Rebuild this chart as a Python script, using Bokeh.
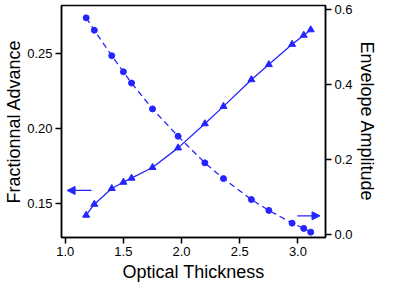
from bokeh.plotting import figure
from bokeh.models import Range1d, LinearAxis, FixedTicker, Arrow, NormalHead, Title
from bokeh.embed import file_html
from bokeh.resources import INLINE

# Data
thickness = [1.18, 1.25, 1.40, 1.50, 1.57, 1.75, 1.97, 2.20, 2.36, 2.60, 2.75, 2.95, 3.05, 3.11]
fractional_advance = [0.1421, 0.1494, 0.1599, 0.1641, 0.1668, 0.1739, 0.1870, 0.2031,
                      0.2147, 0.2325, 0.2426, 0.2561, 0.2622, 0.2658]
envelope_amplitude = [0.578, 0.545, 0.477, 0.434, 0.404, 0.335, 0.262, 0.191,
                      0.149, 0.093, 0.064, 0.030, 0.016, 0.006]

x_ticks = [1.0, 1.5, 2.0, 2.5, 3.0]
x_tick_labels = ["1.0", "1.5", "2.0", "2.5", "3.0"]
left_ticks = [0.15, 0.20, 0.25]
left_tick_labels = ["0.15", "0.20", "0.25"]
right_ticks = [0.0, 0.2, 0.4, 0.6]
right_tick_labels = ["0.0", "0.2", "0.4", "0.6"]

x_title = "Optical Thickness"
left_title = "Fractionnal Advance"
right_title = "Envelope Amplitude"

# indicator arrows (data coordinates)
left_arrow_x = [1.226, 1.016]
left_arrow_y = [0.1586, 0.1586]
right_arrow_x = [2.995, 3.19]
right_arrow_y = [0.0496, 0.0496]

BLUE = "#2424ff"
FONT = "Liberation Sans"

p = figure(width=379, height=282, output_backend="svg", toolbar_location=None,
           x_range=Range1d(0.968, 3.237), y_range=Range1d(0.1272, 0.282),
           min_border_left=0, min_border_right=0, min_border_top=5, min_border_bottom=0)
p.extra_y_ranges = {"amp": Range1d(-0.0083, 0.611)}

p.xgrid.visible = False
p.ygrid.visible = False
p.outline_line_color = "black"
p.outline_line_width = 1.5
p.background_fill_color = "white"
p.border_fill_color = "white"

right_axis = LinearAxis(y_range_name="amp")
p.add_layout(right_axis, "right")

def style_axis(ax, ticks, labels):
    ax.ticker = FixedTicker(ticks=ticks)
    ax.major_label_overrides = {t: l for t, l in zip(ticks, labels)}
    ax.minor_tick_line_color = None
    ax.major_tick_in = 0
    ax.major_tick_out = 6
    ax.major_tick_line_width = 1.5
    ax.axis_line_width = 1.5
    ax.axis_line_color = "black"
    ax.major_tick_line_color = "black"
    ax.major_label_text_font = FONT
    ax.major_label_text_font_size = "13px"
    ax.major_label_text_color = "black"
    ax.major_label_standoff = 3

style_axis(p.xaxis[0], x_ticks, x_tick_labels)
style_axis(p.yaxis[0], left_ticks, left_tick_labels)
style_axis(right_axis, right_ticks, right_tick_labels)

def side_title(text, standoff):
    return Title(text=text, align="center", text_font=FONT, text_font_size="18px",
                 text_font_style="normal", text_color="black", standoff=standoff,
                 offset=0, text_line_height=0.8)

p.add_layout(side_title(x_title, 2), "below")
p.add_layout(side_title(left_title, 2), "left")
p.add_layout(side_title(right_title, 2), "right")

# Fractional advance (left axis): solid line with triangles
p.line(thickness, fractional_advance, line_color=BLUE, line_width=1.3)
p.scatter(thickness, fractional_advance, marker="triangle", size=7,
          fill_color=BLUE, line_color=BLUE)

# Envelope amplitude (right axis): dashed line with circles
p.line(thickness, envelope_amplitude, line_color=BLUE, line_width=1.3,
       line_dash="6 4", y_range_name="amp")
p.scatter(thickness, envelope_amplitude, marker="circle", size=6,
          fill_color=BLUE, line_color=BLUE, y_range_name="amp")

p.add_layout(Arrow(end=NormalHead(size=8, fill_color=BLUE, line_color=BLUE),
                   x_start=left_arrow_x[0], y_start=left_arrow_y[0],
                   x_end=left_arrow_x[1], y_end=left_arrow_y[1],
                   line_color=BLUE, line_width=1.3))
p.add_layout(Arrow(end=NormalHead(size=8, fill_color=BLUE, line_color=BLUE),
                   x_start=right_arrow_x[0], y_start=right_arrow_y[0],
                   x_end=right_arrow_x[1], y_end=right_arrow_y[1],
                   line_color=BLUE, line_width=1.3, y_range_name="amp"))

open("out.html", "w").write(file_html(p, INLINE))
